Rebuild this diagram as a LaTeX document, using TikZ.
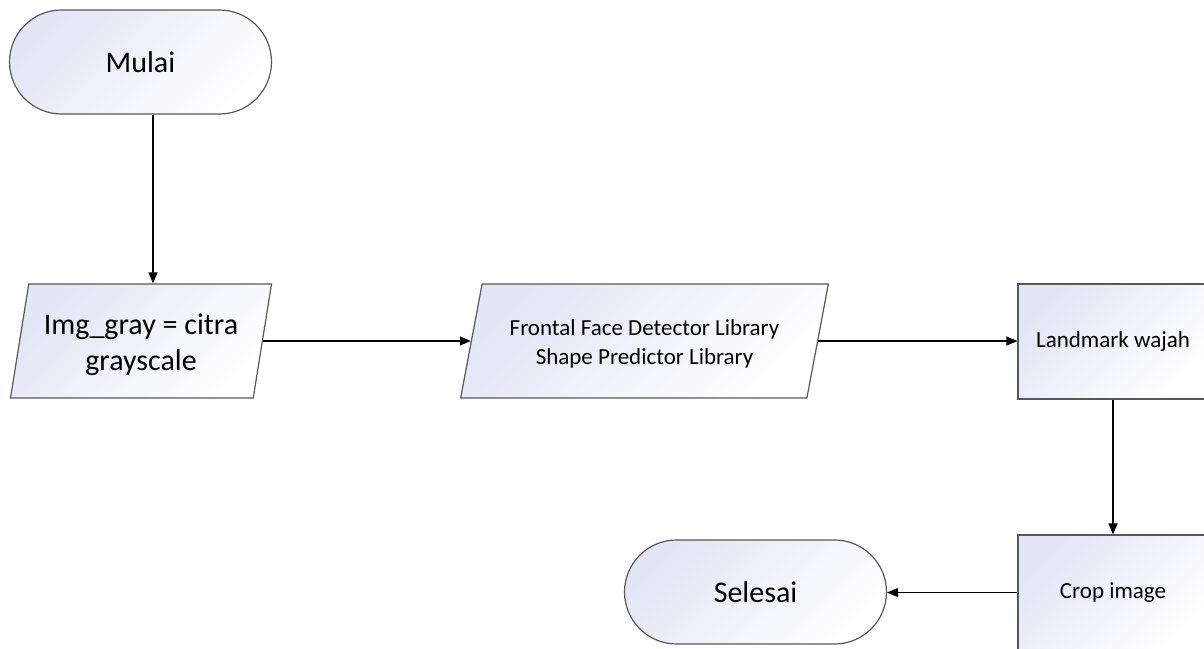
\documentclass[tikz,border=0pt]{standalone}
\usepackage{fontspec}
\setmainfont{Carlito}
\usetikzlibrary{arrows.meta,shapes.geometric}
\definecolor{boxline}{RGB}{88,88,88}
\definecolor{boxtint}{RGB}{228,229,246}
\newcommand{\lowered}[2]{\raisebox{-#1}[\height][\depth]{\begin{tabular}{@{}c@{}}#2\end{tabular}}}
\tikzset{
  boxfill/.style={draw=boxline, line width=1.2pt, top color=boxtint, bottom color=white, shading angle=45},
  terminal/.style={boxfill, rectangle, rounded corners=52pt, minimum width=262pt, minimum height=104pt,
    inner sep=0pt, font=\fontsize{30}{36}\selectfont},
  iobox/.style={boxfill, trapezium, trapezium stretches=true, minimum height=114pt, inner sep=0pt},
  process/.style={boxfill, rectangle, minimum width=190pt, minimum height=115pt, inner sep=0pt,
    font=\fontsize{23}{28}\selectfont},
  flow/.style={draw=black, line width=1.3pt, -{Triangle[length=11pt,width=9pt]}},
}
\begin{document}
\begin{tikzpicture}[x=1pt, y=-1pt]
  \useasboundingbox (0,0) rectangle (1204,648);
  \clip (0,0) rectangle (1204,648);

  % terminators
  \node[terminal] (mulai) at (140.5,62) {Mulai};
  \node[terminal] (selesai) at (755.5,592) {Selesai};

  % input/output parallelograms
  \node[iobox, trapezium left angle=77.6, trapezium right angle=102.4, minimum width=262pt,
        font=\fontsize{30}{36}\selectfont] (gray) at (141,341)
        {\lowered{4pt}{Img\_gray = citra\\grayscale}};
  \node[iobox, trapezium left angle=72.9, trapezium right angle=107.1, minimum width=369pt,
        font=\fontsize{23}{29}\selectfont] (lib) at (644.5,341)
        {\lowered{3pt}{Frontal Face Detector Library\\Shape Predictor Library}};

  % processes
  \node[process] (landmark) at (1113,341.5) {Landmark wajah};
  \node[process] (crop) at (1113,592.5) {Crop image};

  % flow lines
  \draw[flow] ([xshift=12.5pt]mulai.south) -- ([xshift=12.5pt]mulai.south |- gray.north);
  \draw[flow] (gray.east) -- (gray.east -| lib.west);
  \draw[flow] (lib.east) -- (lib.east -| landmark.west);
  \draw[flow] (landmark.south) -- (crop.north);
  \draw[flow] (crop.west) -- (crop.west -| selesai.east);
\end{tikzpicture}
\end{document}
